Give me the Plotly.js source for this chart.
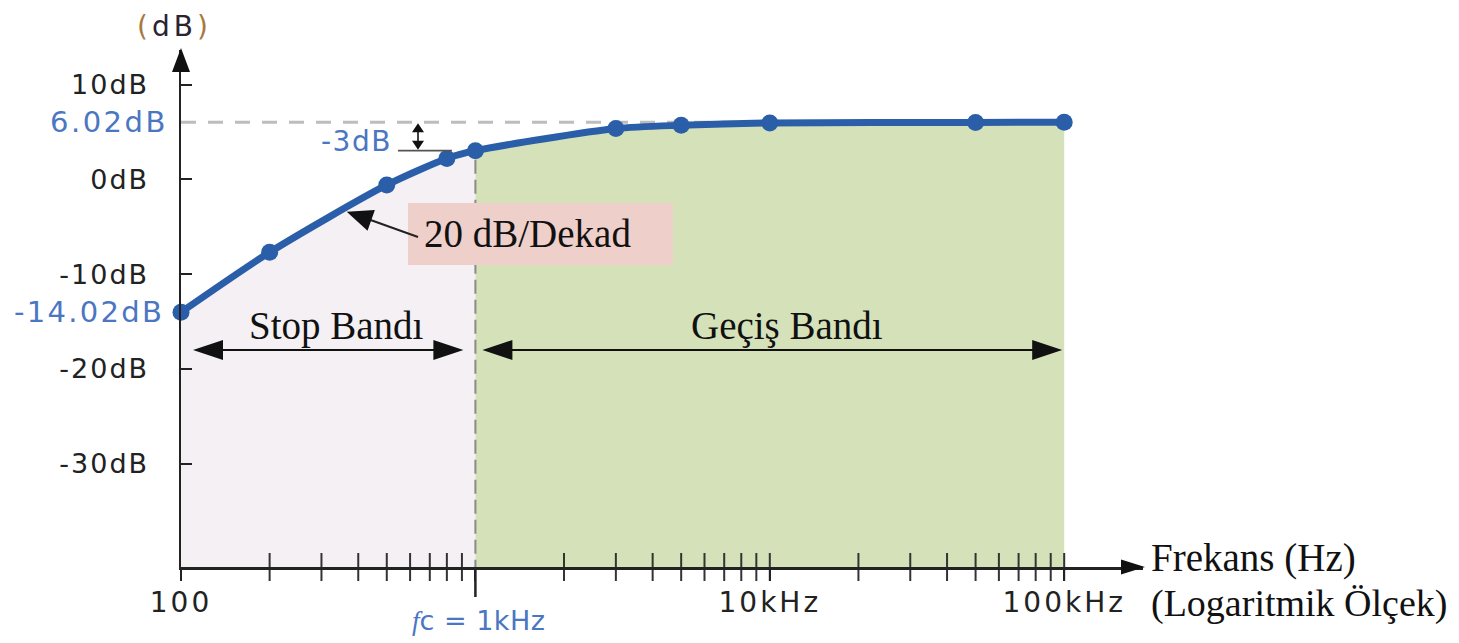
<!DOCTYPE html>
<html><head><meta charset="utf-8">
<script src="https://cdn.plot.ly/plotly-3.0.1.min.js"></script>
<style>
html,body{margin:0;padding:0;background:#fff;}#chart{width:1459px;height:643px;}
g.ytick text{letter-spacing:2px;}
g.xtick text{letter-spacing:3px;}
</style>
</head><body><div id="chart"></div>
<script>
// ---- data ----
const freqHz = [100, 200, 500, 800, 1000, 3000, 5000, 10000, 50000, 100000];
const gainDb = [-14.02, -7.7, -0.6, 2.2, 3.02, 5.35, 5.7, 5.95, 6.0, 6.02];
const minorTickHz = [200,300,400,500,600,700,800,900,2000,3000,4000,5000,6000,7000,8000,9000,10000,20000,30000,40000,50000,60000,70000,80000,90000,100000];
const yTickVals = [10, 0, -10, -20, -30];
const yTickText = ['10dB', '0dB', '-10dB', '-20dB', '-30dB'];
const xTickVals = [100, 1000, 10000, 100000];
const xTickText = ['100', '', '10kHz', '100kHz'];
const cornerHz = 1000;
const cornerDb = 3.02;
const passGainDb = 6.02;
const minGainDb = -14.02;
const bandArrowDb = -18;

// ---- geometry ----
const L = 181, R = 316, T = 50, B = 76;
const W = 1459 - L - R, H = 643 - T - B;
const xr = [2, 2 + W / 294.4];
const yr = [-40.9, 13.64];
const X = f => L + W * (Math.log10(f) - xr[0]) / (xr[1] - xr[0]);
const Y = d => T + H * (yr[1] - d) / (yr[1] - yr[0]);
const px = x => (x - L) / W;
const py = y => (T + H - y) / H;
const P = (x, y) => px(x).toFixed(5) + ',' + py(y).toFixed(5);

function head(tx, ty, dx, dy, len, half, color) {
  const n = Math.hypot(dx, dy); dx /= n; dy /= n;
  const bx = tx - dx * len, by = ty - dy * len;
  const qx = -dy, qy = dx;
  const pts = [[tx, ty], [bx + qx * half, by + qy * half], [bx - qx * half, by - qy * half]];
  return {type: 'path', xref: 'paper', yref: 'paper', layer: 'above',
    path: 'M' + pts.map(p => P(p[0], p[1])).join('L') + 'Z',
    fillcolor: color || '#111', line: {width: 0}};
}
function seg(x0, y0, x1, y1, color, width, dash, layer) {
  return {type: 'line', xref: 'paper', yref: 'paper', layer: layer || 'above',
    x0: px(x0), y0: py(y0), x1: px(x1), y1: py(y1),
    line: {color: color, width: width, dash: dash || 'solid'}};
}
function rect(x0, y0, x1, y1, color) {
  return {type: 'rect', xref: 'paper', yref: 'paper', layer: 'above',
    x0: px(x0), y0: py(y1), x1: px(x1), y1: py(y0), fillcolor: color, line: {width: 0}};
}

const stopX = freqHz.filter(f => f <= cornerHz);
const stopY = gainDb.slice(0, stopX.length);
const passX = freqHz.filter(f => f >= cornerHz);
const passY = gainDb.slice(freqHz.indexOf(cornerHz));

const blue = '#2b5ea8';
const lineShape = {shape: 'spline', smoothing: 0.7, width: 0};
const traces = [
  {x: [freqHz[0], cornerHz], y: [yr[0], yr[0]], mode: 'lines', line: {width: 0}, hoverinfo: 'skip'},
  {x: stopX, y: stopY, mode: 'lines', fill: 'tonexty', fillcolor: '#f4f0f4', line: lineShape, hoverinfo: 'skip'},
  {x: [cornerHz, freqHz[freqHz.length - 1]], y: [yr[0], yr[0]], mode: 'lines', line: {width: 0}, hoverinfo: 'skip'},
  {x: passX, y: passY, mode: 'lines', fill: 'tonexty', fillcolor: '#d5e2b9', line: lineShape, hoverinfo: 'skip'},
  {x: minorTickHz, y: minorTickHz.map(() => yr[0]), mode: 'markers', cliponaxis: false,
    marker: {symbol: 'line-ns', size: 20, color: '#333', line: {width: 2, color: '#333'}}, hoverinfo: 'skip'},
  {x: freqHz, y: gainDb, mode: 'lines+markers', cliponaxis: false,
    line: {color: blue, width: 7, shape: 'spline', smoothing: 0.7},
    marker: {color: blue, size: 17}, hoverinfo: 'skip'}
];

const xC = X(cornerHz), yC = Y(cornerDb), yP = Y(passGainDb);
const yBand = Y(bandArrowDb);
const xL = X(freqHz[0]), xEnd = X(freqHz[freqHz.length - 1]);
const ink = '#111';
const shapes = [
  seg(xL, yP, xEnd, yP, '#bdbdbd', 3, '15px,12px', 'below'),
  seg(xC, yC + 9, xC, T + H, '#8a8a8a', 2, '14px,6px', 'above'),
  seg(xC, T + H, xC, T + H + 30, '#222', 2.5),
  // -3dB marker
  seg(398, yC, 452, yC, '#555', 1.6),
  seg(418, yP + 3, 418, yC - 3, ink, 1.6),
  head(418, yP + 1, 0, -1, 9, 6, ink),
  head(418, yC - 1, 0, 1, 9, 6, ink),
  // label box + pointer
  rect(408, 203, 673, 265, '#eecfca'),
  seg(418, 237, 365, 218, '#222', 2),
  head(346.7, 211.7, -0.942, -0.334, 26, 11, ink),
  // band arrows
  seg(xL + 20, yBand, xC - 20, yBand, ink, 2),
  head(xL + 12, yBand, -1, 0, 30, 10, ink),
  head(xC - 12, yBand, 1, 0, 30, 10, ink),
  seg(xC + 25, yBand, xEnd - 20, yBand, ink, 2),
  head(xC + 7, yBand, -1, 0, 30, 10, ink),
  head(xEnd - 2, yBand, 1, 0, 30, 10, ink),
  // axis arrowheads
  head(L, T - 2, 0, -1, 24, 9, ink),
  head(L + W + 2, T + H, 1, 0, 24, 7.5, ink)
];

const sans = 'DejaVu Sans';
const serif = 'Liberation Serif';
const tblue = '#4a76c2';
const sp = (txt, ls) => '<span style="letter-spacing:' + ls + 'px">' + txt + '</span>';
function ann(x, y, text, opts) {
  return Object.assign({xref: 'paper', yref: 'paper', x: px(x), y: py(y), text: text, showarrow: false,
    xanchor: 'center', yanchor: 'middle', font: {family: sans, size: 28, color: '#222'}}, opts || {});
}
const annotations = [
  ann(174, 26, sp('<span style="color:#a8793f">(</span>dB<span style="color:#a8793f">)</span>', 4), {font: {family: sans, size: 28, color: '#2a2430'}}),
  ann(170, yP, sp(passGainDb.toFixed(2) + 'dB', 2.5), {xanchor: 'right', font: {family: sans, size: 29, color: tblue}}),
  ann(166, Y(minGainDb), sp(minGainDb.toFixed(2) + 'dB', 2.3), {xanchor: 'right', font: {family: sans, size: 29, color: tblue}}),
  ann(394, 141, sp('-3dB', 1.5), {xanchor: 'right', font: {family: sans, size: 28, color: tblue}}),
  ann(478, 620, '<i style="font-family:Liberation Serif">f</i>' + sp('c = 1kHz', 0.5), {font: {family: sans, size: 27, color: tblue}}),
  ann(527, 233, '20 dB/Dekad', {font: {family: serif, size: 39, color: ink}}),
  ann(336, 326, 'Stop Bandı', {font: {family: serif, size: 39, color: ink}}),
  ann(787, 326, 'Geçiş Bandı', {font: {family: serif, size: 39, color: ink}}),
  ann(1149, 558, 'Frekans (Hz)', {xanchor: 'left', font: {family: serif, size: 39, color: ink}}),
  ann(1149, 603, '(Logaritmik Ölçek)', {xanchor: 'left', font: {family: serif, size: 38, color: ink}})
];

const layout = {
  width: 1459, height: 643,
  margin: {l: L, r: R, t: T, b: B, pad: 0},
  paper_bgcolor: '#fff', plot_bgcolor: '#fff',
  showlegend: false, hovermode: false,
  xaxis: {type: 'log', range: xr, showgrid: false, zeroline: false, showline: true,
    linecolor: '#222', linewidth: 2.5, ticks: 'outside', ticklen: 11, tickwidth: 2, tickcolor: '#222',
    tickvals: xTickVals, ticktext: xTickText, ticklabelstandoff: -2,
    tickfont: {family: sans, size: 28, color: '#222'}},
  yaxis: {range: yr, showgrid: false, zeroline: false, showline: true,
    linecolor: '#222', linewidth: 2.5, ticks: 'inside', ticklen: 11, tickwidth: 2, tickcolor: '#222',
    tickvals: yTickVals, ticktext: yTickText, ticklabelstandoff: 24,
    tickfont: {family: sans, size: 27, color: '#222'}},
  shapes: shapes,
  annotations: annotations
};
Plotly.newPlot('chart', traces, layout, {staticPlot: true, displayModeBar: false});
</script>
</body></html>
